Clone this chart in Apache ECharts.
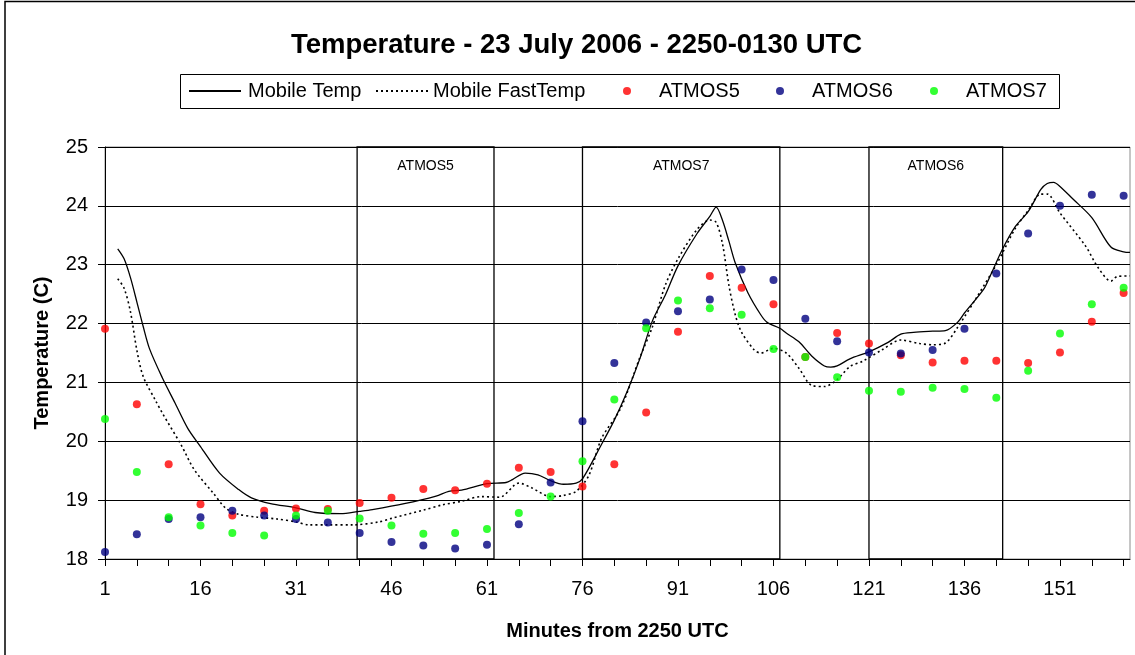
<!DOCTYPE html>
<html>
<head>
<meta charset="utf-8">
<script src="https://cdn.jsdelivr.net/npm/echarts@6/dist/echarts.min.js"></script>
<style>
html,body{margin:0;padding:0;background:#fff;}
#chart{width:1135px;height:655px;}
</style>
</head>
<body>
<div id="chart"></div>
<script>
// ---- data ----
var titleText = 'Temperature - 23 July 2006 - 2250-0130 UTC';
var xName = 'Minutes from 2250 UTC';
var yName = 'Temperature (C)';

// Mobile Temp (solid line)
var tempX = [3,4,5,6,7,8,10,12,14,16,19,22,24,27,31,34,38,41,43,48,53,55,57,61,64,65,67,69,71,73,75,76,79,81,83,85,87,89,91,94,96,97,98,99,100,102,104,105,107,108,110,112,114,115,116,118,121,124,126,128,131,133,135,136,139,140,142,144,146,148,149,150,151,153,156,159,161,162];
var tempY = [23.27,23.10,22.78,22.37,21.95,21.57,21.08,20.65,20.22,19.91,19.46,19.18,19.04,18.94,18.87,18.79,18.77,18.81,18.84,18.94,19.07,19.15,19.17,19.28,19.30,19.35,19.46,19.43,19.33,19.27,19.29,19.36,19.95,20.36,20.84,21.40,22.05,22.48,22.98,23.53,23.82,23.98,23.75,23.40,23.03,22.52,22.15,22.02,21.92,21.84,21.69,21.45,21.28,21.26,21.28,21.40,21.52,21.68,21.82,21.85,21.87,21.88,22.03,22.18,22.58,22.80,23.27,23.65,23.90,24.28,24.38,24.40,24.33,24.12,23.80,23.30,23.22,23.21];

// Mobile FastTemp (dotted line)
var fastX = [3,4,5,6,7,9,10,13,15,18,20,22,25,28,31,33,36,40,44,46,51,54,57,60,63,66,68,71,73,75,77,79,82,85,87,89,91,94,96,97,98,99,100,101,103,104,106,108,110,112,114,116,118,120,123,126,129,131,133,135,138,141,144,146,148,149,151,155,157,159,160,162];
var fastY = [22.76,22.60,22.20,21.55,21.10,20.68,20.48,19.93,19.52,19.12,18.86,18.76,18.71,18.68,18.63,18.58,18.58,18.58,18.63,18.69,18.83,18.92,18.98,19.06,19.05,19.29,19.21,19.06,19.08,19.15,19.42,20.05,20.56,21.42,21.95,22.65,23.10,23.60,23.76,23.72,23.35,22.65,22.15,21.85,21.55,21.50,21.58,21.50,21.24,20.95,20.93,21.05,21.27,21.36,21.55,21.72,21.66,21.64,21.67,21.95,22.46,23.00,23.62,23.92,24.20,24.20,23.88,23.32,22.95,22.72,22.80,22.81];

// ATMOS station samples (every 5 minutes)
var atmosX = [1,6,11,16,21,26,31,36,41,46,51,56,61,66,71,76,81,86,91,96,101,106,111,116,121,126,131,136,141,146,151,156,161];
var atmos5 = [21.91,20.63,19.61,18.93,18.74,18.82,18.86,18.85,18.95,19.04,19.19,19.17,19.28,19.55,19.48,19.23,19.61,20.49,21.86,22.81,22.61,22.33,21.43,21.84,21.66,21.46,21.34,21.37,21.37,21.33,21.51,22.03,22.52];
var atmos6 = [18.12,18.42,18.68,18.71,18.82,18.74,18.68,18.62,18.44,18.29,18.23,18.18,18.24,18.59,19.30,20.34,21.33,22.02,22.21,22.41,22.92,22.74,22.08,21.70,21.51,21.49,21.55,21.91,22.85,23.53,24.00,24.19,24.17];
var atmos7 = [20.38,19.48,18.71,18.57,18.44,18.40,18.74,18.82,18.69,18.57,18.43,18.44,18.51,18.78,19.06,19.66,20.71,21.92,22.39,22.26,22.15,21.57,21.43,21.09,20.86,20.84,20.91,20.89,20.74,21.20,21.83,22.33,22.61];

// boxes marking station passes
var boxLabels = ['ATMOS5','ATMOS7','ATMOS6'];
var boxStart = [40.6, 76, 121];
var boxEnd = [62.1, 107, 142];

// series / legend names and colours
var lineNames = ['Mobile Temp', 'Mobile FastTemp'];
var dotNames = ['ATMOS5', 'ATMOS6', 'ATMOS7'];
var dotColors = ['#ff0000', '#000080', '#00ff00'];

// axis
var xMin = 1, xMax = 162, xStep = 5, xLabelStep = 15;
var yMin = 18, yMax = 25, yStep = 1;

// ---- chart ----
var FONT = '"Liberation Sans", Arial, sans-serif';
function zip(a, b) { return a.map(function (v, i) { return [v, b[i]]; }); }

var boxes = boxLabels.map(function (n, i) {
  return [{ name: n, xAxis: boxStart[i] }, { xAxis: boxEnd[i] }];
});

var legendText = { fontFamily: FONT, fontSize: 20, color: '#000', lineHeight: 20 };
var hiddenSym = { color: 'rgba(0,0,0,0)', borderColor: 'rgba(0,0,0,0)', borderWidth: 0, opacity: 0 };
var lineLegendLeft = [188, 375];
var dotLegendLeft = [623, 776, 930];

var legends = [];
lineNames.forEach(function (n, i) {
  legends.push({
    left: lineLegendLeft[i], top: 81, padding: 0, itemWidth: 52, itemHeight: 8,
    textStyle: Object.assign({}, legendText, { padding: [0, 0, 0, i === 0 ? 2 : 0] }),
    data: [{ name: n, itemStyle: hiddenSym }]
  });
});
dotNames.forEach(function (n, i) {
  legends.push({
    left: dotLegendLeft[i], top: 81, padding: 0, itemWidth: 8, itemHeight: 8,
    textStyle: Object.assign({}, legendText, { padding: [0, 0, 0, 23] }),
    data: [{ name: n, icon: 'circle' }]
  });
});

var series = [
  {
    name: lineNames[0], type: 'line', data: zip(tempX, tempY),
    symbol: 'none', smooth: 0.3, color: '#000',
    lineStyle: { color: '#000', width: 1.3 },
    markArea: {
      silent: true,
      itemStyle: { color: 'rgba(0,0,0,0)', borderColor: '#000', borderWidth: 1.3 },
      label: { show: true, position: 'insideTop', distance: 13, fontFamily: FONT, fontSize: 14, color: '#000' },
      data: boxes
    },
    z: 3
  },
  {
    name: lineNames[1], type: 'line', data: zip(fastX, fastY),
    symbol: 'none', smooth: 0.3, color: '#000',
    lineStyle: { color: '#000', width: 1.6, type: [2, 3] },
    z: 3
  }
];
[atmos5, atmos6, atmos7].forEach(function (vals, i) {
  series.push({
    name: dotNames[i], type: 'scatter', data: zip(atmosX, vals),
    symbol: 'circle', symbolSize: 8, itemStyle: { color: dotColors[i] }, z: 4
  });
});

var chart = echarts.init(document.getElementById('chart'), null, { renderer: 'canvas' });
chart.setOption({
  animation: false,
  backgroundColor: '#fff',
  textStyle: { fontFamily: FONT },
  graphic: [
    {
      type: 'rect', shape: { x: 5, y: 1.5, width: 1140, height: 670 },
      style: { fill: 'none', stroke: '#000', lineWidth: 1.5 }, silent: true, z: 100
    },
    {
      type: 'rect', shape: { x: 180.5, y: 74.5, width: 879, height: 34 },
      style: { fill: 'none', stroke: '#000', lineWidth: 1 }, silent: true, z: 100
    }
  ],
  title: {
    text: titleText, left: 286, top: 26,
    textStyle: { fontFamily: FONT, fontSize: 27.5, fontWeight: 'bold', color: '#000' }
  },
  legend: legends,
  grid: {
    left: 105, right: 5, top: 147, bottom: 96,
    show: true, borderColor: '#8c8c8c', borderWidth: 1, backgroundColor: 'transparent'
  },
  xAxis: {
    type: 'value', min: xMin, max: xMax, interval: xStep,
    name: xName, nameLocation: 'middle', nameGap: 62,
    nameTextStyle: { fontFamily: FONT, fontSize: 20, fontWeight: 'bold', color: '#000' },
    axisLine: { lineStyle: { color: '#000', width: 1 } },
    axisTick: { length: 7, lineStyle: { color: '#000' } },
    axisLabel: {
      margin: 20, fontFamily: FONT, fontSize: 20, color: '#000',
      showMaxLabel: false,
      formatter: function (v) { return ((v - xMin) % xLabelStep === 0) ? String(v) : ''; }
    },
    splitLine: { show: false }
  },
  yAxis: {
    type: 'value', min: yMin, max: yMax, interval: yStep,
    name: yName, nameLocation: 'middle', nameGap: 53, nameRotate: 90,
    nameTextStyle: { fontFamily: FONT, fontSize: 20, fontWeight: 'bold', color: '#000' },
    axisLine: { show: true, lineStyle: { color: '#000', width: 1 } },
    axisTick: { show: true, length: 7, lineStyle: { color: '#000' } },
    axisLabel: { margin: 17, fontFamily: FONT, fontSize: 20, color: '#000' },
    splitLine: { show: true, lineStyle: { color: '#000', width: 1 } }
  },
  series: series
});
</script>
</body>
</html>
